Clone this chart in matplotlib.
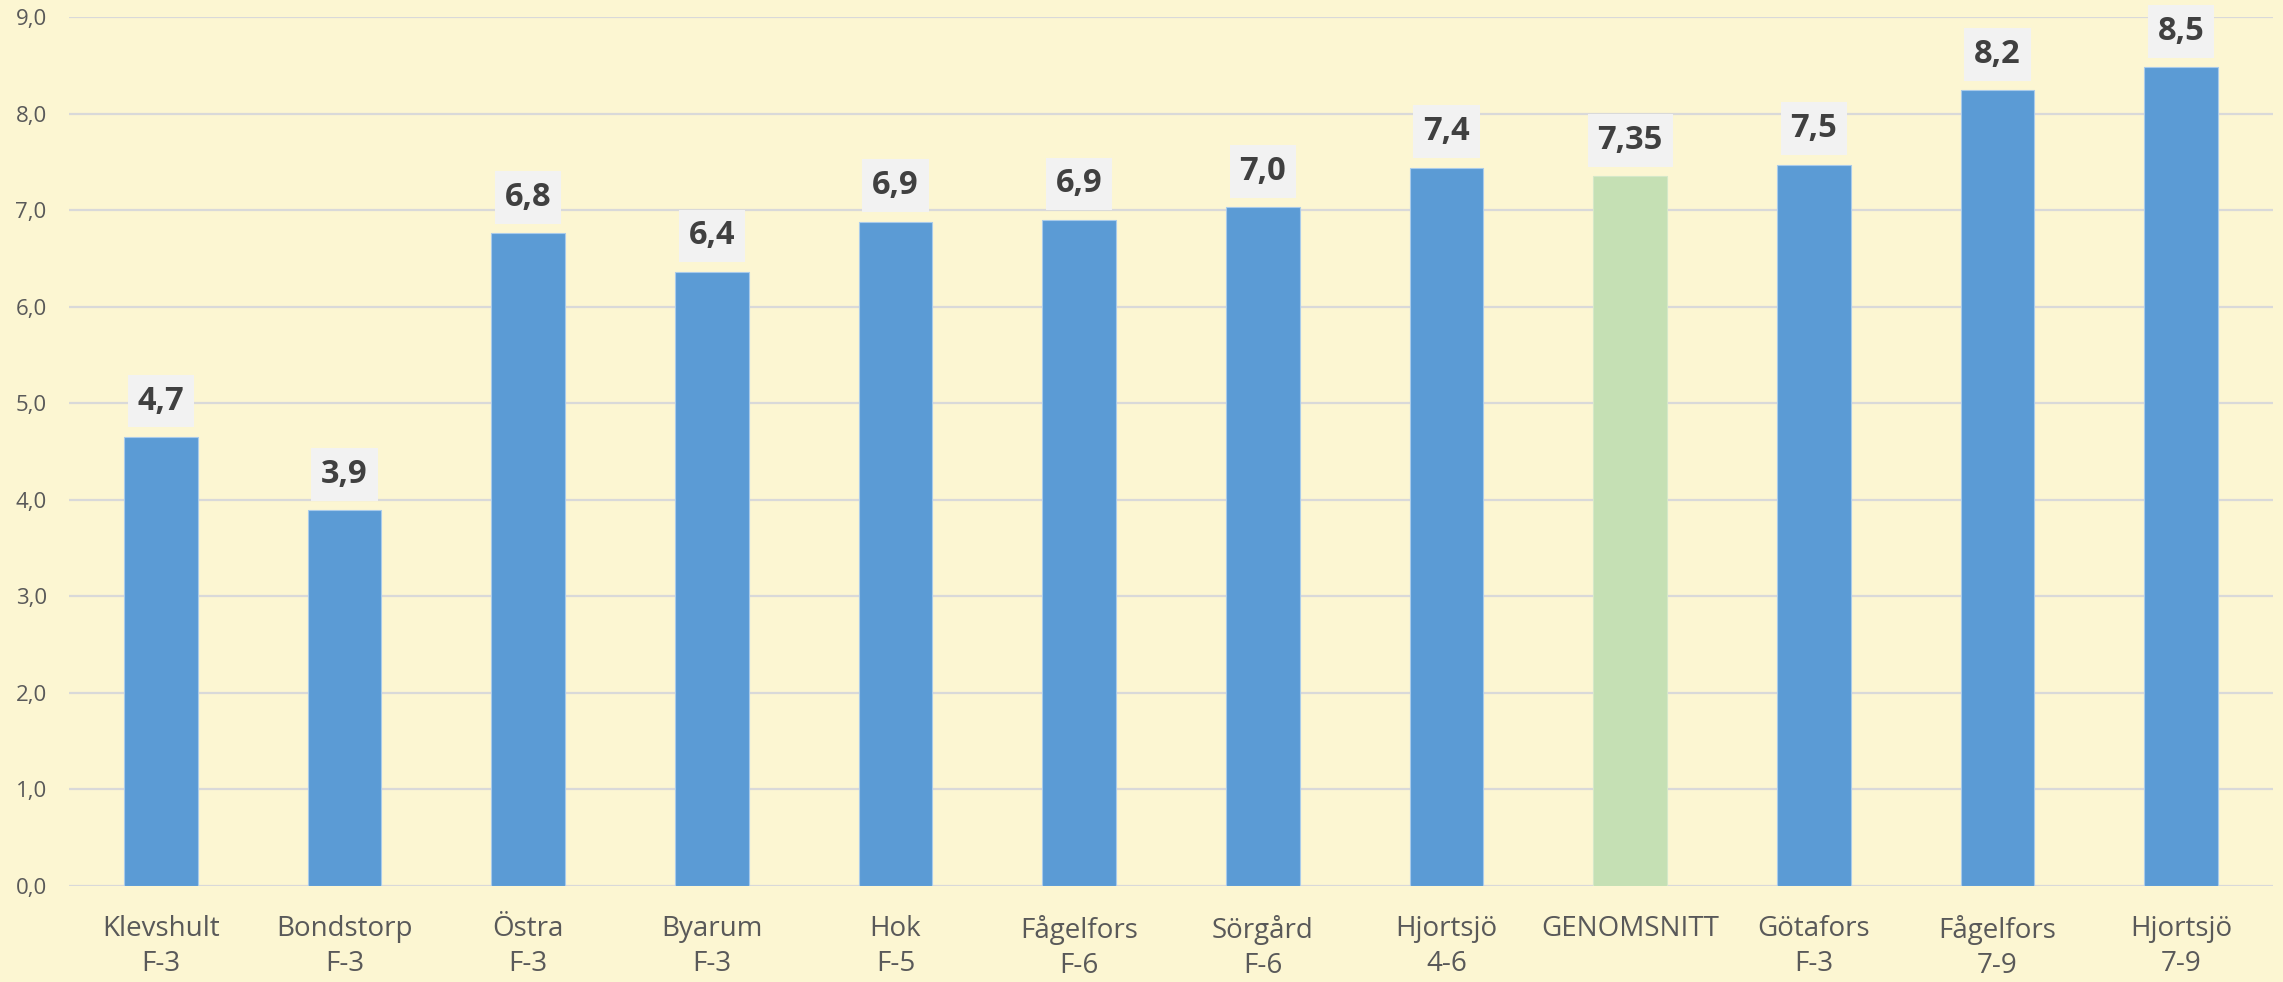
import numpy as np
import matplotlib.pyplot as plt

# === Data ===
schools = ["Klevshult", "Bondstorp", "Östra", "Byarum", "Hok", "Fågelfors",
           "Sörgård", "Hjortsjö", "GENOMSNITT", "Götafors", "Fågelfors", "Hjortsjö"]
grades = ["F-3", "F-3", "F-3", "F-3", "F-5", "F-6", "F-6", "4-6", "", "F-3", "7-9", "7-9"]
values = [4.65, 3.89, 6.76, 6.36, 6.88, 6.90, 7.03, 7.44, 7.35, 7.47, 8.24, 8.48]
labels = ["4,7", "3,9", "6,8", "6,4", "6,9", "6,9", "7,0", "7,4", "7,35", "7,5", "8,2", "8,5"]

bg = "#FCF6D2"
blue = "#5B9BD5"
green = "#C5E0B4"
colors = [green if s == "GENOMSNITT" else blue for s in schools]
edges = ["#D5E8C8" if s == "GENOMSNITT" else "#A9CBEA" for s in schools]

plt.rcParams["font.family"] = ["Open Sans", "DejaVu Sans"]

fig = plt.figure(figsize=(22.83, 9.82), dpi=100, facecolor=bg)
ax = fig.add_axes([0.0302, 0.0978, 0.9654, 0.8849], facecolor=bg)

x = np.arange(len(values))
ax.bar(x, values, width=0.40, color=colors, edgecolor=edges, linewidth=0.8, zorder=3)

# value labels in light grey boxes
for xi, v, lab in zip(x, values, labels):
    ax.annotate(lab, (xi, v), xytext=(0, 14), textcoords="offset points",
                ha="center", va="bottom", fontsize=23.5, fontweight="bold", color="#404040",
                bbox=dict(boxstyle="square,pad=0.3", facecolor="#F2F2F2", edgecolor="none"),
                zorder=4)

ax.set_xlim(-0.5, len(values) - 0.5)
ax.set_ylim(0, 9)
ax.set_yticks(np.arange(0, 10, 1))
ax.set_yticklabels([f"{t:.1f}".replace(".", ",") for t in np.arange(0, 10, 1)])
ax.set_xticks(x)
ax.set_xticklabels([f"{s}\n{g}" if g else s for s, g in zip(schools, grades)],
                   linespacing=1.35)

ax.tick_params(axis="y", length=0, pad=16, labelsize=16, labelcolor="#595959")
ax.tick_params(axis="x", length=0, pad=21, labelsize=20, labelcolor="#595959")
ax.grid(axis="y", color="#D9D9D9", linewidth=1.6, zorder=0)
for sp in ax.spines.values():
    sp.set_visible(False)

plt.savefig("out.png", dpi=100, facecolor=bg)
